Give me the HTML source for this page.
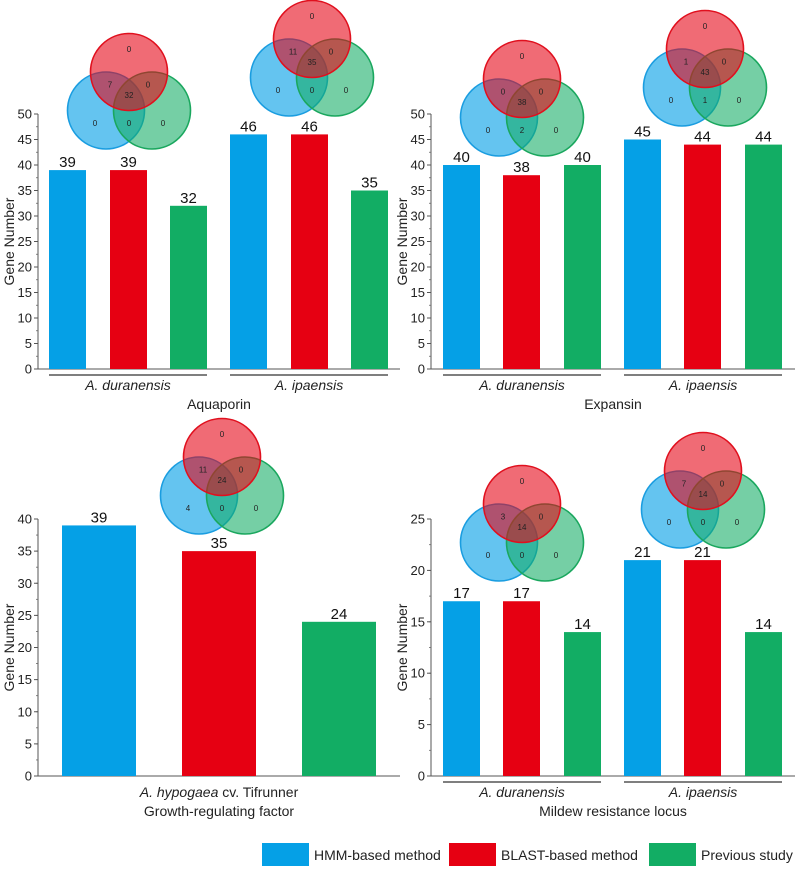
<!DOCTYPE html>
<html><head><meta charset="utf-8"><style>
body{margin:0;background:#fff}
svg{display:block;font-family:"Liberation Sans",Arial,sans-serif}
</style></head><body>
<svg id="fig" width="795" height="871" viewBox="0 0 795 871" xmlns="http://www.w3.org/2000/svg"></svg>
<script>
// ---- data ----
const seriesNames = ["HMM-based method","BLAST-based method","Previous study"];
const colors = ["#05a0e6","#e60012","#12ad64"];
const aquaCategories = ["A. duranensis","A. ipaensis"];
const aquaHMM = [39,46];
const aquaBLAST = [39,46];
const aquaPrev = [32,35];
const expCategories = ["A. duranensis","A. ipaensis"];
const expHMM = [40,45];
const expBLAST = [38,44];
const expPrev = [40,44];
const grfCategories = ["A. hypogaea cv. Tifrunner"];
const grfHMM = [39];
const grfBLAST = [35];
const grfPrev = [24];
const mloCategories = ["A. duranensis","A. ipaensis"];
const mloHMM = [17,21];
const mloBLAST = [17,21];
const mloPrev = [14,14];
const ticks50 = [0,5,10,15,20,25,30,35,40,45,50];
const ticks40 = [0,5,10,15,20,25,30,35,40];
const ticks25 = [0,5,10,15,20,25];
// venn region counts: [red only, blue∩red, red∩green, center, blue only, blue∩green, green only]
const vennAquaDur = [0,7,0,32,0,0,0];
const vennAquaIpa = [0,11,0,35,0,0,0];
const vennExpDur = [0,0,0,38,0,2,0];
const vennExpIpa = [0,1,0,43,0,1,0];
const vennGrf = [0,11,0,24,4,0,0];
const vennMloDur = [0,3,0,14,0,0,0];
const vennMloIpa = [0,7,0,14,0,0,0];

const NS="http://www.w3.org/2000/svg";
const svg=document.getElementById('fig');
function mk(tag,attrs,parent){const e=document.createElementNS(NS,tag);for(const k in attrs)e.setAttribute(k,attrs[k]);(parent||svg).appendChild(e);return e;}

function panel(o){
  const g=mk('g',{});
  
  
  const y=v=>o.y0-(v/o.max)*(o.y0-o.yTop);
  // axis
  const ax=mk('line',{x1:o.ax,y1:o.yTop,x2:o.ax,y2:o.y0,stroke:'#555','stroke-width':1},g);
  
  
  const xa=mk('line',{x1:o.ax,y1:o.y0,x2:o.axEnd,y2:o.y0,stroke:'#555','stroke-width':1},g);
  
  
  // minor ticks
  for(let v=0;v<=o.max+1e-9;v+=o.minor){mk('line',{x1:o.ax-2,y1:y(v),x2:o.ax,y2:y(v),stroke:'#666','stroke-width':0.8},g);}
  o.ticks.forEach(t=>{
    mk('line',{x1:o.ax-4,y1:y(t),x2:o.ax,y2:y(t),stroke:'#555','stroke-width':1},g);
    const tl=mk('text',{x:o.ax-6,y:y(t)+4.5,'text-anchor':'end','font-size':13,fill:'#222'},g);
    tl.textContent=t;
    
    
  });
  const yt=mk('text',{x:0,y:0,'text-anchor':'middle','font-size':14,fill:'#222',transform:`translate(${o.ax-24},${(o.yTop+o.y0)/2}) rotate(-90)`},g);
  yt.textContent='Gene Number';
  
  
  const series=[o.s1,o.s2,o.s3];
  o.cats.forEach((c,ci)=>{
    series.forEach((s,si)=>{
      const x=o.barX[ci][si], v=s[ci];
      const b=mk('rect',{x:x,y:y(v),width:o.bw,height:o.y0-y(v),fill:colors[si]},g);
      
      
      const vl=mk('text',{x:x+o.bw/2,y:y(v)-3,'text-anchor':'middle','font-size':15,fill:'#111'},g);
      vl.textContent=v;
      
      
    });
    const x1=o.barX[ci][0], x2=o.barX[ci][2]+o.bw;
    if(o.underline){
      const ul=mk('line',{x1:x1,y1:o.y0+6,x2:x2,y2:o.y0+6,stroke:'#333','stroke-width':1.3},g);
      
      
    }
    const cl=mk('text',{x:(x1+x2)/2,y:o.y0+21,'text-anchor':'middle','font-size':14,fill:'#222'},g);
    if(c.indexOf(' cv. ')>0){
      const p=c.split(' cv. ');
      const t1=mk('tspan',{'font-style':'italic'},cl);t1.textContent=p[0];
      const t2=mk('tspan',{},cl);t2.textContent=' cv. '+p[1];
    } else { cl.setAttribute('font-style','italic'); cl.textContent=c; }
    
    
  });
  const ti=mk('text',{x:o.titleX,y:o.y0+40,'text-anchor':'middle','font-size':14,fill:'#222'},g);
  ti.textContent=o.title;
  
  
}

function venn(cx,cy,vals,name){
  const g=mk('g',{});
  
  
  const r=38.5, dx=23, dy=38.5;
  const circles=[[cx-dx,cy+dy,'rgba(5,160,230,0.62)','#1a9de0','venn-circle-hmm'],[cx+dx,cy+dy,'rgba(18,173,100,0.58)','#1aa75e','venn-circle-previous'],[cx,cy,'rgba(230,0,18,0.58)','#e0101e','venn-circle-blast']];
  circles.forEach(c=>{const e=mk('circle',{cx:c[0],cy:c[1],r:r,fill:c[2],stroke:c[3],'stroke-width':1.6},g);
    
    });
  const pos=[[0,-r*0.6],[-19,r*0.33],[19,r*0.33],[0,r*0.6],[-34,dy+r*0.33],[0,dy+r*0.33],[34,dy+r*0.33]];
  vals.forEach((v,i)=>{const t=mk('text',{x:cx+pos[i][0],y:cy+pos[i][1]+3,'text-anchor':'middle','font-size':8,fill:'#222'},g);t.textContent=v;
    
    });
}

const topX1=[[49,110,170],[230,291,351]];
const topX2=[[443,503,564],[624,684,745]];
panel({name:'aquaporin-panel',ax:38,axEnd:400,yTop:114,y0:369,max:50,minor:2.5,ticks:ticks50,cats:aquaCategories,s1:aquaHMM,s2:aquaBLAST,s3:aquaPrev,barX:topX1,bw:37,underline:true,title:'Aquaporin',titleX:219});
panel({name:'expansin-panel',ax:431,axEnd:795,yTop:114,y0:369,max:50,minor:2.5,ticks:ticks50,cats:expCategories,s1:expHMM,s2:expBLAST,s3:expPrev,barX:topX2,bw:37,underline:true,title:'Expansin',titleX:613});
panel({name:'growth-regulating-factor-panel',ax:38,axEnd:400,yTop:519,y0:776,max:40,minor:2.5,ticks:ticks40,cats:grfCategories,s1:grfHMM,s2:grfBLAST,s3:grfPrev,barX:[[62,182,302]],bw:74,underline:false,title:'Growth-regulating factor',titleX:219});
panel({name:'mildew-resistance-locus-panel',ax:431,axEnd:795,yTop:519,y0:776,max:25,minor:2.5,ticks:ticks25,cats:mloCategories,s1:mloHMM,s2:mloBLAST,s3:mloPrev,barX:topX2,bw:37,underline:true,title:'Mildew resistance locus',titleX:613});

venn(129,72,vennAquaDur,'venn-aquaporin-duranensis');
venn(312,39,vennAquaIpa,'venn-aquaporin-ipaensis');
venn(522,79,vennExpDur,'venn-expansin-duranensis');
venn(705,49,vennExpIpa,'venn-expansin-ipaensis');
venn(222,457,vennGrf,'venn-growth-regulating-factor');
venn(522,504,vennMloDur,'venn-mildew-duranensis');
venn(703,471,vennMloIpa,'venn-mildew-ipaensis');

// legend
const legX=[262,449,649];
seriesNames.forEach((n,i)=>{
  const g=mk('g',{});
  
  
  mk('rect',{x:legX[i],y:843,width:47,height:23,fill:colors[i]},g);
  const t=mk('text',{x:legX[i]+52,y:860,'font-size':14,fill:'#222'},g);
  t.textContent=n;
});
</script>
</body></html>
